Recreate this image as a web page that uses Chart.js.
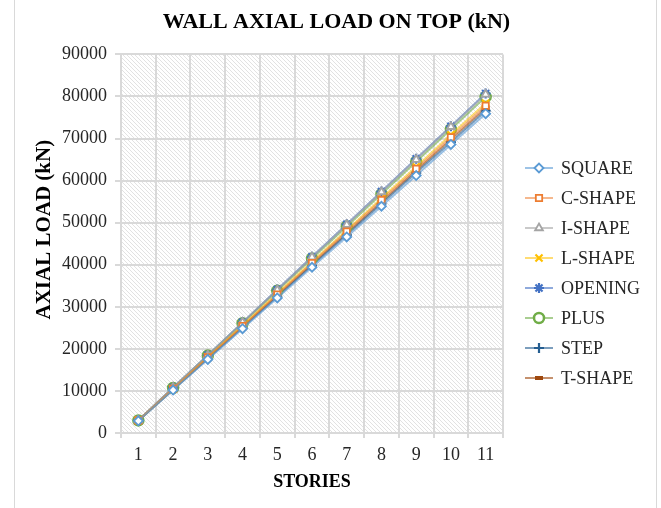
<!DOCTYPE html>
<html>
<head>
<meta charset="utf-8">
<script src="https://cdn.jsdelivr.net/npm/chart.js@4.4.1/dist/chart.umd.min.js"></script>
<style>
  html, body { margin: 0; padding: 0; background: #fff; overflow: hidden; }
  #wrap { position: relative; width: 661px; height: 508px; }
  #frame { position: absolute; left: 14px; top: -2px; width: 641px; height: 520px; border: 1px solid #d9d9d9; pointer-events: none; }
  canvas { position: absolute; left: 0; top: 0; }
</style>
</head>
<body>
<div id="wrap">
  <canvas id="c" width="661" height="508"></canvas>
  <div id="frame"></div>
</div>
<script>
const stories = ['1','2','3','4','5','6','7','8','9','10','11'];
const yTicks = [0,10000,20000,30000,40000,50000,60000,70000,80000,90000];
const yTitle = 'AXIAL LOAD (kN)';

const square  = [2900, 10200, 17500, 24800, 32100, 39400, 46600, 53900, 61200, 68600, 75900];
const cShape  = [3000, 10500, 18000, 25400, 32900, 40400, 47900, 55400, 62800, 70300, 77800];
const iShape  = [3000, 10800, 18500, 26300, 34000, 41800, 49500, 57300, 65000, 72800, 80500];
const lShape  = [3000, 10500, 18100, 25600, 33200, 40700, 48200, 55800, 63300, 70900, 78400];
const opening = [3000, 10800, 18500, 26300, 34100, 41900, 49600, 57400, 65200, 72900, 80700];
const plus    = [3000, 10700, 18400, 26100, 33800, 41500, 49100, 56800, 64500, 72200, 79900];
const step    = [2900, 10300, 17700, 25000, 32400, 39800, 47100, 54500, 61900, 69200, 76600];
const tShape  = [3000, 10400, 17800, 25300, 32700, 40100, 47500, 54900, 62400, 69800, 77200];

function ds(label, data, color, lineColor, style, radius, bw, fill) {
  return {
    label, data,
    borderColor: lineColor, borderWidth: 2,
    pointStyle: style, pointRadius: radius, pointHoverRadius: radius,
    pointBorderColor: color, pointBackgroundColor: fill || color,
    pointBorderWidth: bw, tension: 0, fill: false
  };
}

const datasets = [
  ds('SQUARE', square, '#5B9BD5', 'rgba(91,155,213,0.6)', 'rectRot', 4.5, 1.8, '#ffffff'),
  ds('C-SHAPE', cShape, '#ED7D31', 'rgba(237,125,49,0.55)', 'rect', 4.5, 1.8, '#ffffff'),
  ds('I-SHAPE', iShape, '#A5A5A5', 'rgba(165,165,165,0.6)', 'triangle', 4.5, 1.8, '#ffffff'),
  ds('L-SHAPE', lShape, '#FFC000', 'rgba(255,192,0,0.55)', 'crossRot', 5, 2.2),
  ds('OPENING', opening, '#4472C4', 'rgba(68,114,196,0.6)', 'star', 5, 2.2),
  ds('PLUS', plus, '#70AD47', 'rgba(112,173,71,0.6)', 'circle', 5, 2.5, '#ffffff'),
  ds('STEP', step, '#255E91', 'rgba(37,94,145,0.6)', 'cross', 5, 2.2),
  ds('T-SHAPE', tShape, '#9E480E', 'rgba(158,72,14,0.6)', 'line', 4, 4)
];

function makePattern(ctx) {
  const s = 4;
  const pc = document.createElement('canvas');
  pc.width = s; pc.height = s;
  const p = pc.getContext('2d');
  p.fillStyle = '#ffffff'; p.fillRect(0, 0, s, s);
  p.fillStyle = '#e2e2e2';
  for (let x = 0; x < s; x++) {
    for (let y = 0; y < s; y++) {
      if (((x - y) % s + s) % s === 0) p.fillRect(x, y, 1, 1);
    }
  }
  return ctx.createPattern(pc, 'repeat');
}

const serif = '"Liberation Serif", "Times New Roman", serif';

const hatchPlugin = {
  id: 'hatch',
  beforeDraw(chart) {
    const { ctx, chartArea: a } = chart;
    ctx.save();
    ctx.fillStyle = makePattern(ctx);
    ctx.fillRect(a.left, a.top, a.right - a.left, a.bottom - a.top);
    ctx.restore();
  }
};

const yTitlePlugin = {
  id: 'yTitle',
  afterDraw(chart) {
    const ctx = chart.ctx;
    const a = chart.chartArea;
    ctx.save();
    ctx.translate(45, (a.top + a.bottom) / 2 - 14);
    ctx.rotate(-Math.PI / 2);
    ctx.fillStyle = '#000';
    ctx.font = 'bold 21px ' + serif;
    ctx.textAlign = 'center';
    ctx.textBaseline = 'middle';
    ctx.fillText(yTitle, 0, 0);
    ctx.restore();
  }
};

const legendPlugin = {
  id: 'sideLegend',
  afterDraw(chart) {
    const ctx = chart.ctx;
    const x0 = chart.scales.y2.left + 22;
    const y0 = 168, dy = 30;
    chart.data.datasets.forEach((d, i) => {
      const y = y0 + i * dy;
      ctx.save();
      ctx.strokeStyle = d.borderColor;
      ctx.lineWidth = 2;
      ctx.beginPath();
      ctx.moveTo(x0, y); ctx.lineTo(x0 + 28, y);
      ctx.stroke();
      ctx.strokeStyle = d.pointBorderColor;
      ctx.fillStyle = d.pointBackgroundColor;
      ctx.lineWidth = d.pointBorderWidth;
      Chart.helpers.drawPoint(ctx, { pointStyle: d.pointStyle, radius: d.pointRadius, rotation: 0, borderWidth: d.pointBorderWidth }, x0 + 14, y);
      ctx.fillStyle = '#262626';
      ctx.font = '18px ' + serif;
      ctx.textAlign = 'left';
      ctx.textBaseline = 'middle';
      ctx.fillText(d.label, x0 + 36, y + 1);
      ctx.restore();
    });
  }
};

const gridColor = '#d9d9d9';

new Chart(document.getElementById('c'), {
  type: 'line',
  data: { labels: stories, datasets },
  plugins: [hatchPlugin, legendPlugin, yTitlePlugin],
  options: {
    responsive: false,
    animation: false,
    events: [],
    layout: { padding: { left: 16, right: 4, top: 0, bottom: 11 } },
    plugins: {
      legend: { display: false },
      tooltip: { enabled: false },
      title: {
        display: true,
        text: 'WALL AXIAL LOAD ON TOP (kN)',
        color: '#000',
        font: { family: serif, size: 22, weight: 'bold' },
        padding: { top: 9, bottom: 19 }
      }
    },
    scales: {
      x: {
        type: 'category',
        offset: true,
        grid: { offset: true, color: gridColor, lineWidth: 2, tickLength: 5, tickColor: gridColor },
        border: { color: gridColor, width: 2 },
        ticks: { color: '#262626', font: { family: serif, size: 18 }, padding: 6, maxRotation: 0, autoSkip: false },
        title: { display: true, text: 'STORIES', color: '#000', font: { family: serif, size: 18, weight: 'bold' }, padding: { top: 4, bottom: 4 } },
        afterFit(s) { s.height = 508 - 433 - 11; }
      },
      y: {
        min: 0, max: 90000,
        afterBuildTicks(s) { s.ticks = yTicks.map(v => ({ value: v })); },
        grid: { color: gridColor, lineWidth: 2, tickLength: 6, tickColor: gridColor },
        border: { color: gridColor, width: 2 },
        ticks: { color: '#262626', font: { family: serif, size: 18 }, padding: 8, callback: v => String(v) },
        title: { display: false },
        afterFit(s) { s.width = 121 - 16; }
      },
      y2: {
        type: 'linear',
        position: 'right',
        min: 0, max: 1,
        grid: { display: false, drawTicks: false },
        border: { display: false },
        ticks: { display: false },
        afterFit(s) { s.width = 661 - 4 - 503; }
      }
    }
  }
});
</script>
</body>
</html>
